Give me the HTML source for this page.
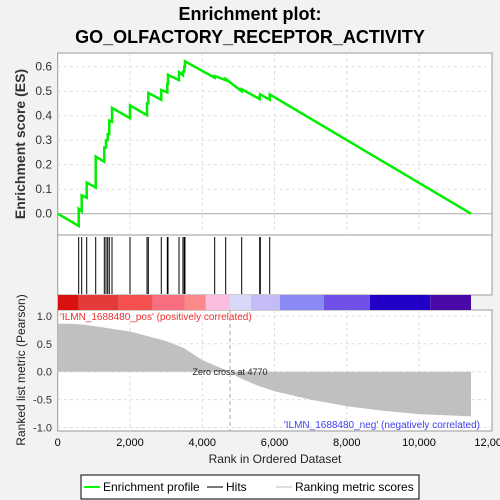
<!DOCTYPE html>
<html><head><meta charset="utf-8"><style>
body{margin:0;background:#f2f2f2;}
svg{display:block;font-family:"Liberation Sans",sans-serif;}
</style></head><body>
<svg id="chart" width="500" height="500" viewBox="0 0 500 500">
<rect x="0" y="0" width="500" height="500" fill="#f2f2f2"/>
<text x="250" y="20" text-anchor="middle" font-size="18" font-weight="bold">Enrichment plot:</text>
<text x="250" y="43" text-anchor="middle" font-size="18" font-weight="bold">GO_OLFACTORY_RECEPTOR_ACTIVITY</text>
<g id="g"></g>
<g>
<rect x="81" y="475" width="338" height="24" fill="#fff" stroke="#000"/>
<line x1="84" y1="487" x2="100" y2="487" stroke="#00ff00" stroke-width="2"/>
<text x="103" y="491" font-size="12">Enrichment profile</text>
<line x1="207" y1="487" x2="223" y2="487" stroke="#777" stroke-width="2"/>
<text x="226" y="491" font-size="12">Hits</text>
<line x1="276" y1="487" x2="292" y2="487" stroke="#ddd" stroke-width="2"/>
<text x="295" y="491" font-size="12">Ranking metric scores</text>
</g>
</svg>
<script>
const hitRanks=[581,664,803,1052,1290,1337,1384,1428,1503,2001,2472,2508,2867,3034,3053,3357,3467,3503,3523,4345,4650,5093,5591,5608,5868];
const esBefore=[-0.05,0.01,0.065,0.107,0.212,0.27,0.30,0.325,0.375,0.39,0.402,0.45,0.465,0.495,0.53,0.545,0.565,0.58,0.60,0.555,0.545,0.50,0.468,0.478,0.465];
const esAfter=[0.02,0.075,0.127,0.233,0.27,0.30,0.325,0.38,0.432,0.442,0.45,0.493,0.505,0.53,0.567,0.578,0.58,0.60,0.622,0.562,0.55,0.508,0.485,0.487,0.487];
const totalN=11440;
const metricRanks=[0,20,300,600,1000,2000,3000,3500,4000,4500,4770,5000,5500,6000,7000,8000,9000,10000,11440];
const metricValues=[1.0,0.86,0.86,0.85,0.82,0.72,0.55,0.42,0.21,0.07,0.0,-0.1,-0.24,-0.35,-0.5,-0.62,-0.7,-0.76,-0.8];
const xTicks=[0,2000,4000,6000,8000,10000,12000];
const esTicks=[0.0,0.1,0.2,0.3,0.4,0.5,0.6];
const metricTicks=[-1.0,-0.5,0.0,0.5,1.0];
const barColors=["#d81010","#e43a3a","#f55050","#f87080","#fa8a8a","#fbbde0","#d8d8f8","#c4bdf5","#8a8af5","#7050e8","#2200c8","#4a0aa8"];
const barEnds=[581,1690,2630,3520,4100,4770,5350,6150,7370,8640,10310,11440];

const NS="http://www.w3.org/2000/svg";
const g=document.getElementById('g');
const L=57.7,R=492;
const x=v=>L+v*0.03613;
const yES=v=>213.7-v*245;
const yM=v=>371.7-v*55.8;
function mk(t,a,p){const e=document.createElementNS(NS,t);for(const k in a)e.setAttribute(k,a[k]);(p||g).appendChild(e);return e;}

const p1=mk('rect',{x:L,y:53,width:R-L,height:182,fill:'#fff',stroke:'#999'});


const p2=mk('rect',{x:L,y:235,width:R-L,height:60,fill:'#fff',stroke:'#999'});


const p3=mk('rect',{x:L,y:310,width:R-L,height:121,fill:'#fff',stroke:'#999'});



xTicks.forEach(t=>{
 if(t>0&&t<12000){
  const a=mk('line',{x1:x(t),x2:x(t),y1:53,y2:235,stroke:'#ddd','stroke-dasharray':'3,3'});
  
  
  const b=mk('line',{x1:x(t),x2:x(t),y1:310,y2:431,stroke:'#ddd','stroke-dasharray':'3,3'});
  
  
 }
 const tl=mk('text',{x:x(t),y:446,'text-anchor':'middle','font-size':11});
 tl.textContent=t.toLocaleString('en-US');
 
 
});
esTicks.forEach(t=>{
 const a=mk('line',{x1:L,x2:R,y1:yES(t),y2:yES(t),stroke:t===0?'#aaa':'#ddd','stroke-dasharray':t===0?'':'3,3'});
 
 
 const tl=mk('text',{x:52,y:yES(t)+4,'text-anchor':'end','font-size':12,fill:'#333'});
 tl.textContent=t.toFixed(1);
 
 
});
metricTicks.forEach(t=>{
 const a=mk('line',{x1:L,x2:R,y1:yM(t),y2:yM(t),stroke:'#ddd','stroke-dasharray':'3,3'});
 
 
 const tl=mk('text',{x:52,y:yM(t)+4,'text-anchor':'end','font-size':11,fill:'#333'});
 tl.textContent=t.toFixed(1);
 
 
});

let d='M'+x(0)+','+yES(0);
hitRanks.forEach((r,i)=>{d+=' L'+x(r)+','+yES(esBefore[i])+' L'+x(r)+','+yES(esAfter[i]);});
d+=' L'+x(totalN)+','+yES(0);
const es=mk('path',{d:d,fill:'none',stroke:'#00ee00','stroke-width':2.5});



hitRanks.forEach(r=>{
 const h=mk('line',{x1:x(r),x2:x(r),y1:237,y2:294,stroke:'#000','stroke-width':1});
 
 
});

let prev=0;
barEnds.forEach((e,i)=>{
 const s=mk('rect',{x:x(prev),y:295,width:x(e)-x(prev),height:15,fill:barColors[i]});
 
 
 prev=e;
});

let md='M'+x(0)+','+yM(0);
metricRanks.forEach((r,i)=>{md+=' L'+x(r)+','+yM(metricValues[i]);});
md+=' L'+x(metricRanks[metricRanks.length-1])+','+yM(0)+' Z';
const ma=mk('path',{d:md,fill:'#c0c0c0',stroke:'none'});



const zc=mk('line',{x1:x(4770),x2:x(4770),y1:310,y2:431,stroke:'#aaa','stroke-dasharray':'4,3'});


const zt=mk('text',{x:x(4770),y:375,'text-anchor':'middle','font-size':9,fill:'#222'});
zt.textContent='Zero cross at 4770';



const pl=mk('text',{x:60,y:320,'font-size':10,fill:'#f03030'});
pl.textContent="'ILMN_1688480_pos' (positively correlated)";


const nl=mk('text',{x:480,y:428,'text-anchor':'end','font-size':10,fill:'#4040f0'});
nl.textContent="'ILMN_1688480_neg' (negatively correlated)";



const ya=mk('text',{x:0,y:0,'text-anchor':'middle','font-size':14,'font-weight':'bold',fill:'#333',transform:'translate(25,144) rotate(-90)'});
ya.textContent='Enrichment score (ES)';


const yb=mk('text',{x:0,y:0,'text-anchor':'middle','font-size':12,fill:'#222',transform:'translate(25,370) rotate(-90)'});
yb.textContent='Ranked list metric (Pearson)';


const xa=mk('text',{x:275,y:463,'text-anchor':'middle','font-size':12,fill:'#222'});
xa.textContent='Rank in Ordered Dataset';


</script>
</body></html>
